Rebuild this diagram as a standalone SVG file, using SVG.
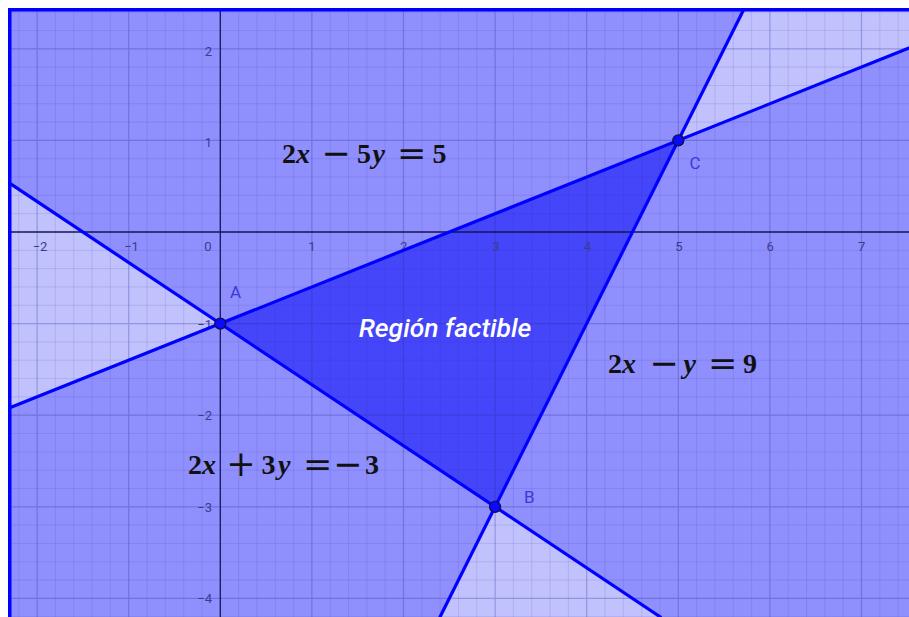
<svg xmlns="http://www.w3.org/2000/svg" width="909" height="617" viewBox="0 0 909 617">
<style>
.minor{fill:none;stroke:#3030a0;stroke-opacity:0.12;stroke-width:1}
.major{fill:none;stroke:#3030a0;stroke-opacity:0.3;stroke-width:1.2}
.axis{fill:none;stroke:#14145a;stroke-width:1.3}
.line{fill:none;stroke:#0000ff;stroke-width:3.2;stroke-linecap:round}
.pt{fill:#0a0aff;stroke:#10104a;stroke-width:1.3}
.plab{font-family:Roboto,"Liberation Sans",sans-serif;font-size:17px;fill:#3a3ad8}
.tick{font-family:Roboto,"Liberation Sans",sans-serif;font-size:13px;fill:#3c3c8e}
.eq{font-family:"Liberation Serif",serif;font-weight:bold;font-size:28px;fill:#111}
.op{font-family:"DejaVu Serif",serif;font-weight:normal;font-size:35px}
.v{font-style:italic}
.reg{font-family:Roboto,"Liberation Sans",sans-serif;font-style:italic;font-weight:500;font-size:26.5px;fill:#ffffff}
</style>
<rect x="0" y="0" width="909" height="617" fill="#ffffff"/>
<g id="regions">
<rect x="11" y="11" width="898" height="606" fill="#8f8ffd"/>
<polygon points="220.3,323.6 11,184.1 11,407.3" fill="#c1c1fd"/>
<polygon points="495.1,506.8 440,617 660.4,617" fill="#c1c1fd"/>
<polygon points="678.3,140.4 743,11 909,11 909,48.1" fill="#c1c1fd"/>
<polygon id="feasible" points="220.3,323.6 495.1,506.8 678.3,140.4" fill="#4545fa"/>
</g>
<g id="grid">
<path class="minor" d="M18.78 11V617M55.42 11V617M73.74 11V617M92.06 11V617M110.38 11V617M147.02 11V617M165.34 11V617M183.66 11V617M201.98 11V617M238.62 11V617M256.94 11V617M275.26 11V617M293.58 11V617M330.22 11V617M348.54 11V617M366.86 11V617M385.18 11V617M421.82 11V617M440.14 11V617M458.46 11V617M476.78 11V617M513.42 11V617M531.74 11V617M550.06 11V617M568.38 11V617M605.02 11V617M623.34 11V617M641.66 11V617M659.98 11V617M696.62 11V617M714.94 11V617M733.26 11V617M751.58 11V617M788.22 11V617M806.54 11V617M824.86 11V617M843.18 11V617M879.82 11V617M898.14 11V617M11 12.16H909M11 30.48H909M11 67.12H909M11 85.44H909M11 103.76H909M11 122.08H909M11 158.72H909M11 177.04H909M11 195.36H909M11 213.68H909M11 250.32H909M11 268.64H909M11 286.96H909M11 305.28H909M11 341.92H909M11 360.24H909M11 378.56H909M11 396.88H909M11 433.52H909M11 451.84H909M11 470.16H909M11 488.48H909M11 525.12H909M11 543.44H909M11 561.76H909M11 580.08H909M11 616.72H909"/>
<path class="major" d="M37.1 11V617M128.7 11V617M311.9 11V617M403.5 11V617M495.1 11V617M586.7 11V617M678.3 11V617M769.9 11V617M861.5 11V617M11 48.8H909M11 140.4H909M11 323.6H909M11 415.2H909M11 506.8H909M11 598.4H909"/>
</g>
<g id="axes">
<path class="axis" d="M11 232H909M220.3 11V617"/>
<g class="tick" text-anchor="middle">
<text x="40" y="250.5">−2</text>
<text x="131.5" y="250.5">−1</text>
<text x="208" y="250.5">0</text>
<text x="312" y="250.5">1</text>
<text x="403.7" y="250.5">2</text>
<text x="496" y="250.5">3</text>
<text x="587.3" y="250.5">4</text>
<text x="678.8" y="250.5">5</text>
<text x="770.2" y="250.5">6</text>
<text x="861.7" y="250.5">7</text>
</g>
<g class="tick" text-anchor="end">
<text x="212" y="55.5">2</text>
<text x="212" y="147">1</text>
<text x="212" y="328.5">−1</text>
<text x="212" y="420">−2</text>
<text x="212" y="511.7">−3</text>
<text x="212" y="603">−4</text>
</g>
</g>
<g id="connectors">
<line id="l1" class="line" x1="11" y1="407.3" x2="909" y2="48.1"/>
<line id="l2" class="line" x1="11" y1="184.1" x2="660.4" y2="617"/>
<line id="l3" class="line" x1="440" y1="617" x2="743" y2="11"/>
</g>
<g id="nodeA"><circle class="pt" cx="220.3" cy="323.6" r="5.5"/><text class="plab" x="230" y="298">A</text></g>
<g id="nodeB"><circle class="pt" cx="495.1" cy="506.8" r="5.5"/><text class="plab" x="524" y="503">B</text></g>
<g id="nodeC"><circle class="pt" cx="678.3" cy="140.4" r="5.5"/><text class="plab" x="689.5" y="169">C</text></g>
<g id="labels">
<text class="eq" y="163.3"><tspan x="282">2</tspan><tspan class="v" x="296">x</tspan> <tspan class="op" x="321.3" y="165">−</tspan> <tspan x="357" y="163.3">5</tspan><tspan class="v" x="372.5">y</tspan> <tspan class="op" x="397" y="165">=</tspan> <tspan x="432.5" y="163.3">5</tspan></text>
<text class="eq" y="473.5"><tspan x="188">2</tspan><tspan class="v" x="202">x</tspan> <tspan class="op" x="226.3" y="475.5">+</tspan> <tspan x="261.5" y="473.5">3</tspan><tspan class="v" x="278">y</tspan> <tspan class="op" x="303" y="475.5">=</tspan> <tspan class="op" x="333">−</tspan><tspan x="365" y="473.5">3</tspan></text>
<text class="eq" y="373"><tspan x="608">2</tspan><tspan class="v" x="622">x</tspan> <tspan class="op" x="649.3" y="375">−</tspan> <tspan class="v" x="683.5" y="373">y</tspan> <tspan class="op" x="708" y="375">=</tspan> <tspan x="743" y="373">9</tspan></text>
<text class="reg" x="445" y="337" text-anchor="middle">Región factible</text>
</g>
<path d="M9.75 617V9.75H909" fill="none" stroke="#0000ff" stroke-width="3.5"/>
</svg>
